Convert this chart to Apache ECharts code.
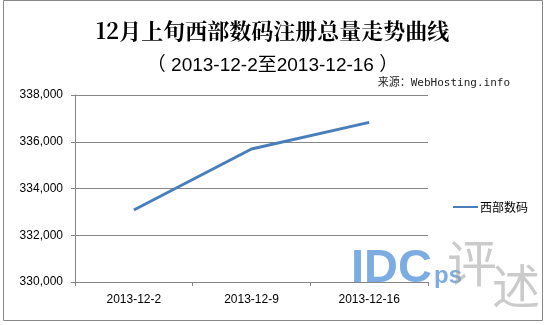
<!DOCTYPE html>
<html><head><meta charset="utf-8">
<script src="https://cdn.jsdelivr.net/npm/echarts@6/dist/echarts.min.js"></script>
<style>html,body{margin:0;padding:0;background:#fff}#c{width:545px;height:325px}</style>
</head><body><div id="c"></div>
<script>
const categories = ['2013-12-2', '2013-12-9', '2013-12-16'];
const seriesName = '西部数码';
const values = [333080, 335690, 336830];
const yTicks = [330000, 332000, 334000, 336000, 338000];

const chart = echarts.init(document.getElementById('c'), null, {renderer: 'canvas'});
const fmt = v => v.toLocaleString('en-US');
chart.setOption({
  animation: false,
  backgroundColor: '#fff',
  title: [
    {text: '12月上旬西部数码注册总量走势曲线', left: 'center', top: 15,
     textStyle: {fontFamily: 'Noto Serif CJK SC, Noto Sans CJK SC, serif', fontSize: 22, fontWeight: 'bold', color: '#000'}},
    {text: '（ 2013-12-2至2013-12-16 ）', left: 'center', top: 51,
     textStyle: {fontFamily: 'Liberation Sans, Noto Sans CJK SC, Arial, sans-serif', fontSize: 19, fontWeight: 'normal', color: '#000'}},
    {text: '来源：WebHosting.info', right: 30, top: 73,
     textStyle: {fontFamily: 'DejaVu Sans Mono, Noto Sans CJK SC, monospace', fontSize: 11, fontWeight: 'normal', color: '#222'}}
  ],
  legend: {
    data: [seriesName], left: 448, top: 196, orient: 'vertical',
    itemWidth: 25, itemHeight: 10, itemGap: 4,
    icon: 'path://M0,4 L25,4 L25,6 L0,6 Z',
    textStyle: {fontFamily: 'Noto Sans CJK SC, sans-serif', fontSize: 12, color: '#000', padding: [0, 0, 0, -3]}
  },
  grid: {left: 75, top: 95, width: 353, height: 187, containLabel: false},
  xAxis: {
    type: 'category', data: categories, boundaryGap: true,
    axisLine: {lineStyle: {color: '#868686', width: 1}},
    axisTick: {show: true, length: 4, alignWithLabel: false, lineStyle: {color: '#868686'}},
    axisLabel: {fontFamily: 'Liberation Sans, Arial, sans-serif', fontSize: 12, color: '#000', margin: 12}
  },
  yAxis: {
    type: 'value', min: yTicks[0], max: yTicks[yTicks.length - 1], interval: 2000,
    axisLine: {show: true, lineStyle: {color: '#868686'}},
    axisTick: {show: true, length: 4, lineStyle: {color: '#868686'}},
    axisLabel: {formatter: fmt, fontFamily: 'Liberation Sans, Arial, sans-serif', fontSize: 12, color: '#000', margin: 12},
    splitLine: {show: true, lineStyle: {color: '#868686', width: 1}}
  },
  series: [{
    name: seriesName, type: 'line', data: values, symbol: 'none',
    lineStyle: {color: '#4A7EBB', width: 3}, itemStyle: {color: '#4A7EBB'}
  }],
  graphic: [
    {type: 'rect', shape: {x: 3.5, y: 0.5, width: 539, height: 320}, style: {fill: 'none', stroke: '#888', lineWidth: 1}, z: 100},
    {type: 'text', left: 351, top: 246, style: {text: 'IDC', font: 'bold 47px Liberation Sans, Arial, sans-serif', fill: 'rgba(74,140,215,0.72)'}, z: 50},
    {type: 'text', left: 434, top: 264, style: {text: 'ps', font: 'bold 24px Liberation Sans, Arial, sans-serif', fill: 'rgba(74,140,215,0.72)'}, z: 50},
    {type: 'text', left: 447, top: 238, style: {text: '评', font: '50px Noto Sans CJK SC, sans-serif', fill: 'rgba(160,160,160,0.55)'}, z: 50},
    {type: 'text', left: 492, top: 262, style: {text: '述', font: '48px Noto Sans CJK SC, sans-serif', fill: 'rgba(160,160,160,0.55)'}, z: 50}
  ]
});
</script></body></html>
